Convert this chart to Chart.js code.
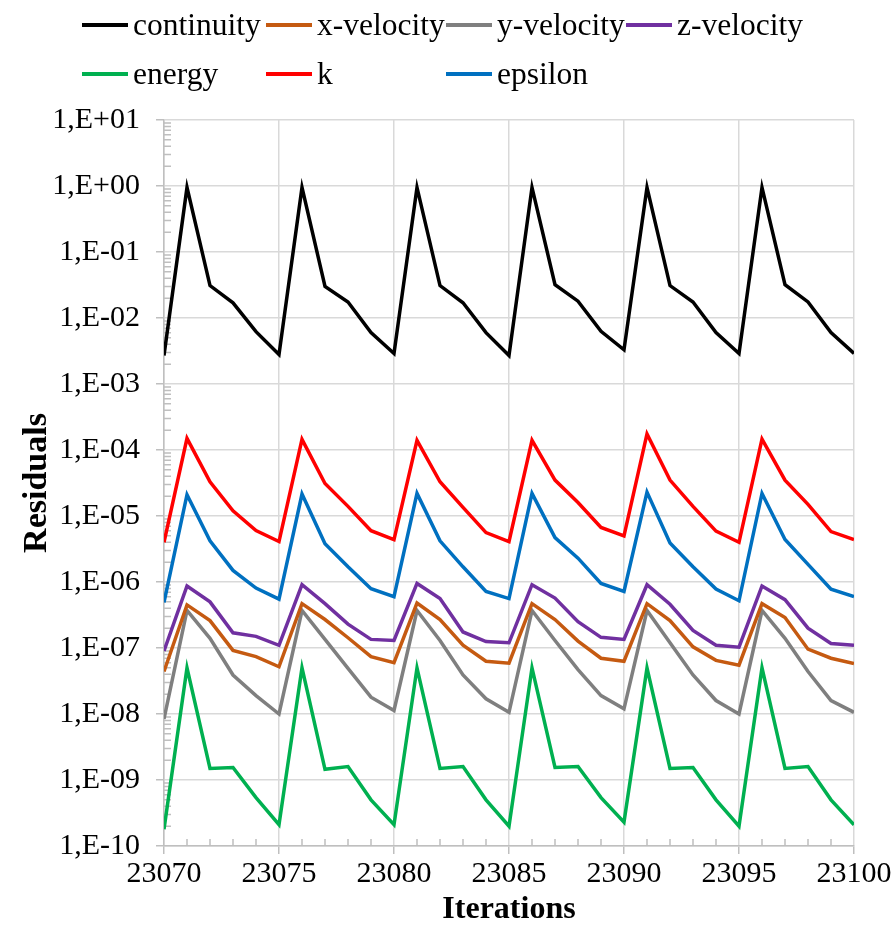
<!DOCTYPE html>
<html>
<head>
<meta charset="utf-8">
<script src="https://cdn.jsdelivr.net/npm/chart.js@4"></script>
<style>
  body { margin: 0; background: #fff; }
  #wrap { position: relative; width: 894px; height: 926px; }
  #legend {
    position: absolute; left: 82px; top: 0;
    font-family: "Liberation Serif", "Times New Roman", serif; font-size: 31.5px; color: #000;
    display: grid; grid-template-columns: 184px 180px 180px 200px;
  }
  .item { display: flex; align-items: center; height: 49px; white-space: nowrap; }
  .swatch { width: 46px; height: 4px; margin-right: 5px; flex: none; }
</style>
</head>
<body>
<div id="wrap">
  <canvas id="myChart" width="894" height="926"></canvas>
  <div id="legend"></div>
</div>
<script>
// iterations on the x axis
var iterations = [];
for (var it = 23070; it <= 23100; it++) iterations.push(it);

var seriesNames = ['continuity', 'x-velocity', 'y-velocity', 'z-velocity', 'energy', 'k', 'epsilon'];
var seriesColors = ['#000000', '#C55A11', '#7F7F7F', '#7030A0', '#00B050', '#FF0000', '#0070C0'];

var continuity = [2.7e-3, 0.95, 3.1e-2, 1.7e-2, 6.2e-3, 2.8e-3, 0.95, 3.0e-2, 1.75e-2, 6.0e-3, 2.9e-3,
  0.95, 3.1e-2, 1.7e-2, 6.0e-3, 2.7e-3, 0.95, 3.2e-2, 1.8e-2, 6.3e-3, 3.3e-3,
  0.95, 3.1e-2, 1.75e-2, 6.0e-3, 2.9e-3, 0.95, 3.2e-2, 1.75e-2, 6.0e-3, 2.9e-3];
var xVelocity = [4.4e-8, 4.5e-7, 2.6e-7, 9.2e-8, 7.4e-8, 5.2e-8, 4.7e-7, 2.7e-7, 1.43e-7, 7.4e-8, 6.0e-8,
  4.8e-7, 2.7e-7, 1.1e-7, 6.3e-8, 5.9e-8, 4.7e-7, 2.7e-7, 1.27e-7, 7.0e-8, 6.3e-8,
  4.7e-7, 2.6e-7, 1.04e-7, 6.5e-8, 5.5e-8, 4.7e-7, 2.9e-7, 9.6e-8, 7.0e-8, 5.8e-8];
var yVelocity = [8.4e-9, 3.7e-7, 1.4e-7, 3.9e-8, 1.9e-8, 1.0e-8, 3.7e-7, 1.35e-7, 4.9e-8, 1.8e-8, 1.13e-8,
  3.7e-7, 1.3e-7, 3.9e-8, 1.7e-8, 1.06e-8, 3.7e-7, 1.3e-7, 4.7e-8, 1.9e-8, 1.2e-8,
  3.7e-7, 1.2e-7, 3.9e-8, 1.6e-8, 1.0e-8, 3.7e-7, 1.4e-7, 4.4e-8, 1.6e-8, 1.06e-8];
var zVelocity = [9.0e-8, 8.7e-7, 5.0e-7, 1.7e-7, 1.5e-7, 1.1e-7, 9.1e-7, 4.7e-7, 2.3e-7, 1.35e-7, 1.3e-7,
  9.5e-7, 5.6e-7, 1.75e-7, 1.25e-7, 1.2e-7, 9.1e-7, 5.7e-7, 2.5e-7, 1.45e-7, 1.35e-7,
  9.1e-7, 4.6e-7, 1.85e-7, 1.1e-7, 1.03e-7, 8.7e-7, 5.4e-7, 2.0e-7, 1.17e-7, 1.1e-7];
var energy = [1.8e-10, 5.0e-8, 1.5e-9, 1.55e-9, 5.4e-10, 2.1e-10, 5.0e-8, 1.45e-9, 1.6e-9, 5.0e-10, 2.1e-10,
  5.0e-8, 1.5e-9, 1.6e-9, 5.0e-10, 2.0e-10, 5.0e-8, 1.55e-9, 1.6e-9, 5.4e-10, 2.3e-10,
  5.0e-8, 1.5e-9, 1.55e-9, 5.0e-10, 2.0e-10, 5.0e-8, 1.5e-9, 1.6e-9, 5.0e-10, 2.1e-10];
var k = [4.0e-6, 1.5e-4, 3.3e-5, 1.2e-5, 6.0e-6, 4.1e-6, 1.45e-4, 3.1e-5, 1.4e-5, 6.0e-6, 4.4e-6,
  1.4e-4, 3.3e-5, 1.35e-5, 5.6e-6, 4.1e-6, 1.4e-4, 3.5e-5, 1.6e-5, 6.7e-6, 5.0e-6,
  1.75e-4, 3.5e-5, 1.4e-5, 5.9e-6, 4.0e-6, 1.46e-4, 3.5e-5, 1.5e-5, 5.8e-6, 4.4e-6];
var epsilon = [4.9e-7, 2.1e-5, 4.2e-6, 1.5e-6, 8.1e-7, 5.5e-7, 2.15e-5, 3.8e-6, 1.7e-6, 7.9e-7, 6.0e-7,
  2.2e-5, 4.2e-6, 1.7e-6, 7.2e-7, 5.6e-7, 2.2e-5, 4.7e-6, 2.3e-6, 9.5e-7, 7.2e-7,
  2.3e-5, 3.9e-6, 1.7e-6, 7.8e-7, 5.2e-7, 2.2e-5, 4.4e-6, 1.85e-6, 7.8e-7, 6.0e-7];

var yTickValues = [1e-10, 1e-9, 1e-8, 1e-7, 1e-6, 1e-5, 1e-4, 1e-3, 1e-2, 1e-1, 1, 10];
var yTickLabels = ['1,E-10', '1,E-09', '1,E-08', '1,E-07', '1,E-06', '1,E-05', '1,E-04',
  '1,E-03', '1,E-02', '1,E-01', '1,E+00', '1,E+01'];

var allSeries = [continuity, xVelocity, yVelocity, zVelocity, energy, k, epsilon];

// html legend laid out as a grid like the original
var legend = document.getElementById('legend');
seriesNames.forEach(function (name, i) {
  var item = document.createElement('div');
  item.className = 'item';
  item.innerHTML = '<span class="swatch" style="background:' + seriesColors[i] + '"></span>' + name;
  legend.appendChild(item);
});

// small minor tick marks drawn inside the plot area
var minorTicks = {
  id: 'minorTicks',
  beforeDatasetsDraw: function (chart) {
    var ctx = chart.ctx, area = chart.chartArea, x = chart.scales.x, y = chart.scales.y;
    ctx.save();
    ctx.strokeStyle = '#bfbfbf';
    ctx.lineWidth = 1.5;
    ctx.beginPath();
    for (var e = -10; e < 1; e++) {
      for (var m = 2; m < 10; m++) {
        var py = y.getPixelForValue(m * Math.pow(10, e));
        ctx.moveTo(area.left, py);
        ctx.lineTo(area.left + 7, py);
      }
    }
    iterations.forEach(function (v) {
      if ((v - iterations[0]) % 5 === 0) return;
      var px = x.getPixelForValue(v);
      ctx.moveTo(px, area.bottom);
      ctx.lineTo(px, area.bottom - 7);
    });
    ctx.stroke();
    ctx.restore();
  }
};

Chart.defaults.font.family = '"Liberation Serif", "Times New Roman", serif';
Chart.defaults.color = '#000';

var ctx = document.getElementById('myChart').getContext('2d');
var chart = new Chart(ctx, {
  type: 'line',
  data: {
    datasets: allSeries.map(function (values, i) {
      return {
        label: seriesNames[i],
        data: values.map(function (v, j) { return { x: iterations[j], y: v }; }),
        borderColor: seriesColors[i],
        backgroundColor: seriesColors[i],
        borderWidth: 3.5,
        pointRadius: 0,
        tension: 0
      };
    })
  },
  options: {
    responsive: false,
    animation: false,
    layout: { padding: { top: 120, right: 40, bottom: 0, left: 0 } },
    plugins: { legend: { display: false }, tooltip: { enabled: false } },
    scales: {
      x: {
        type: 'linear',
        min: 23070,
        max: 23100,
        afterFit: function (s) { s.height = 80; },
        ticks: {
          stepSize: 5,
          font: { size: 30 },
          padding: 2,
          maxRotation: 0,
          callback: function (v) { return String(v); }
        },
        grid: { color: '#d9d9d9', lineWidth: 1.5, tickLength: 8, tickColor: '#bfbfbf' },
        border: { color: '#bfbfbf', width: 1.5 },
        title: {
          display: true,
          text: 'Iterations',
          font: { size: 32, weight: 'bold', lineHeight: 1 },
          padding: { top: 0, bottom: 0 }
        }
      },
      y: {
        type: 'logarithmic',
        min: 1e-10,
        max: 10,
        afterFit: function (s) { s.width = 164; },
        afterBuildTicks: function (axis) {
          axis.ticks = yTickValues.map(function (v) { return { value: v }; });
        },
        ticks: {
          font: { size: 30 },
          padding: 16,
          callback: function (v) {
            var i = yTickValues.findIndex(function (t) { return Math.abs(Math.log10(t) - Math.log10(v)) < 1e-6; });
            return i >= 0 ? yTickLabels[i] : '';
          }
        },
        grid: { color: '#d9d9d9', lineWidth: 1.5, tickLength: 8, tickColor: '#bfbfbf' },
        border: { color: '#bfbfbf', width: 1.5 },
        title: {
          display: true,
          text: 'Residuals',
          font: { size: 34, weight: 'bold', lineHeight: 1 },
          padding: { top: 20, bottom: 0 }
        }
      }
    }
  },
  plugins: [minorTicks]
});
</script>
</body>
</html>
